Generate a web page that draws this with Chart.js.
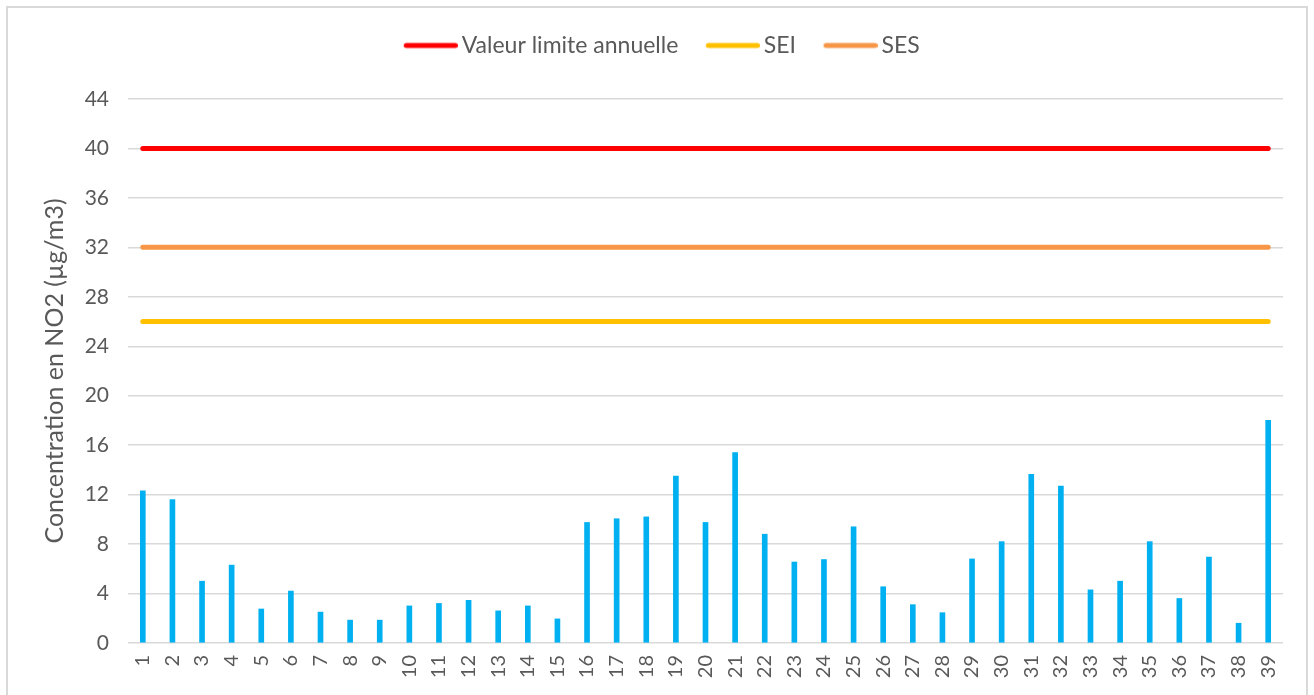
<!DOCTYPE html>
<html>
<head>
<meta charset="utf-8">
<script src="https://cdn.jsdelivr.net/npm/chart.js@4"></script>
<style>
  html, body { margin: 0; padding: 0; background: #fff; }
  #wrap { position: relative; width: 1314px; height: 695px; overflow: hidden; }
  #frame { position: absolute; left: 6px; top: 6px; width: 1302px; height: 720px; border: 2px solid #d9d9d9; box-sizing: border-box; pointer-events: none; }
</style>
</head>
<body>
<div id="wrap">
  <canvas id="no2Chart" width="1314" height="695"></canvas>
  <div id="frame"></div>
</div>
<script>
// site numbers on the x axis
const sites = [];
for (let i = 1; i <= 39; i++) sites.push(String(i));

// NO2 concentration per site (µg/m3)
const concentrations = [12.3, 11.6, 5.0, 6.3, 2.75, 4.2, 2.5, 1.85, 1.85, 3.0,
                        3.2, 3.45, 2.6, 3.0, 1.95, 9.75, 10.05, 10.2, 13.5, 9.75,
                        15.4, 8.8, 6.55, 6.75, 9.4, 4.55, 3.1, 2.45, 6.8, 8.2,
                        13.65, 12.7, 4.3, 5.0, 8.2, 3.6, 6.95, 1.6, 18.0];

// threshold values
const valeurLimite = 40;
const sei = 26;
const ses = 32;

const yTicks = [0, 4, 8, 12, 16, 20, 24, 28, 32, 36, 40, 44];

const flat = v => sites.map(() => v);
const grey = '#595959';
const font = 'Lato, "Open Sans", sans-serif';

// legend marker: a thick line pushed to the right so it sits close to its text
function legendLine(color) {
    const c = document.createElement('canvas');
    c.width = 62;
    c.height = 8;
    const g = c.getContext('2d');
    g.strokeStyle = color;
    g.lineWidth = 5;
    g.lineCap = 'round';
    g.beginPath();
    g.moveTo(10.5, 4);
    g.lineTo(59.5, 4);
    g.stroke();
    return c;
}

// extra gap under the legend, and legend nudged a bit to the right
const legendTweak = {
    id: 'legendTweak',
    beforeInit(chart) {
        const fit = chart.legend.fit;
        chart.legend.fit = function () {
            fit.call(this);
            this.height += 32;
        };
    },
    afterLayout(chart) {
        chart.legend.left += 10;
        chart.legend.right += 10;
    }
};

document.addEventListener("DOMContentLoaded", function () {
    const ctx = document.getElementById('no2Chart').getContext('2d');

    new Chart(ctx, {
        data: {
            labels: sites,
            datasets: [
                {
                    type: 'line',
                    label: 'Valeur limite annuelle',
                    data: flat(valeurLimite),
                    borderColor: '#ff0000',
                    backgroundColor: '#ff0000',
                    borderWidth: 5,
                    borderCapStyle: 'round',
                    pointRadius: 0,
                    pointStyle: legendLine('#ff0000'),
                    order: 1
                },
                {
                    type: 'line',
                    label: 'SEI',
                    data: flat(sei),
                    borderColor: '#ffc000',
                    backgroundColor: '#ffc000',
                    borderWidth: 5,
                    borderCapStyle: 'round',
                    pointRadius: 0,
                    pointStyle: legendLine('#ffc000'),
                    order: 1
                },
                {
                    type: 'line',
                    label: 'SES',
                    data: flat(ses),
                    borderColor: '#f79646',
                    backgroundColor: '#f79646',
                    borderWidth: 5,
                    borderCapStyle: 'round',
                    pointRadius: 0,
                    pointStyle: legendLine('#f79646'),
                    order: 1
                },
                {
                    type: 'bar',
                    label: 'NO2',
                    data: concentrations,
                    backgroundColor: '#00b0f0',
                    barThickness: 5,
                    order: 2
                }
            ]
        },
        options: {
            responsive: false,
            animation: false,
            layout: { padding: { left: 20, right: 31, top: 7, bottom: 0 } },
            plugins: {
                tooltip: { enabled: false },
                legend: {
                    position: 'top',
                    labels: {
                        filter: item => item.text !== 'NO2',
                        usePointStyle: true,
                        pointStyleWidth: 47,
                        color: grey,
                        padding: 27,
                        font: { family: font, size: 23 }
                    }
                }
            },
            scales: {
                x: {
                    grid: { display: false },
                    border: { display: false },
                    ticks: {
                        color: grey,
                        minRotation: 90,
                        maxRotation: 90,
                        autoSkip: false,
                        padding: 4,
                        font: { family: font, size: 20 }
                    },
                    afterFit: s => { s.height = 52; }
                },
                y: {
                    min: 0,
                    max: 44,
                    afterBuildTicks: s => { s.ticks = yTicks.map(v => ({ value: v })); },
                    grid: { color: '#d9d9d9', lineWidth: 1.5, drawTicks: false },
                    border: { display: false },
                    ticks: {
                        color: grey,
                        padding: 19,
                        font: { family: font, size: 21 }
                    },
                    title: {
                        display: true,
                        text: 'Concentration en NO2 (µg/m3)',
                        color: grey,
                        padding: { top: 20, bottom: 0 },
                        font: { family: font, size: 25 }
                    },
                    afterFit: s => { s.width = 108; }
                }
            }
        },
        plugins: [legendTweak]
    });
});
</script>
</body>
</html>
